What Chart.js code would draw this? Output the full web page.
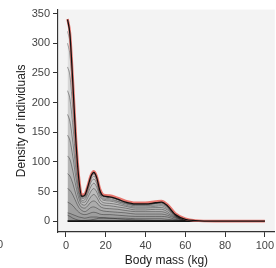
<!DOCTYPE html>
<html>
<head>
<meta charset="utf-8">
<script src="https://cdn.jsdelivr.net/npm/chart.js@4/dist/chart.umd.min.js"></script>
<style>
  html, body { margin: 0; padding: 0; background: #fff; }
  #wrap { width: 276px; height: 268px; }
</style>
</head>
<body>
<div id="wrap"><canvas id="densityChart" width="276" height="268"></canvas></div>
<script>
// Valores de masa corporal (eje X)
const massGrid = [0.8, 2, 3.5, 5, 6.5, 8, 9.5, 11, 12.5, 14, 15.5, 17, 19, 22, 26, 30, 35, 40, 45, 48, 51, 55, 60, 65, 75, 100];

// Curva final (negra) y contorno rojo
const finalDensity = [340, 315, 230, 135, 70, 42, 44, 58, 75, 82, 73, 52, 42, 41, 37, 32, 29, 29, 31, 32, 26, 11, 3, 1, 0, 0];
const redDensity   = [341, 317, 234, 140, 74, 44, 46, 60, 77, 84, 75, 55, 44, 43, 39, 34, 31, 31, 33, 34, 28, 13, 4, 1, 0, 0];

// Curvas grises intermedias
const grayCurves = [
  [320, 300, 222, 132, 69, 41.5, 43.5, 57, 74, 81, 72, 51, 41.5, 40.5, 36.5, 31.5, 28.5, 28.5, 30.5, 31.5, 25.5, 10.5, 3, 1, 0, 0],
  [300, 280, 210, 128, 68, 41, 43, 56, 72, 79, 70, 50, 41, 40, 36, 31, 28, 28, 30, 31, 25, 10, 3, 1, 0, 0],
  [260, 245, 186, 116, 63, 40, 41, 54, 69, 76, 67, 48, 39, 38, 34, 30, 27, 27, 29, 30, 24, 10, 3, 1, 0, 0],
  [220, 206, 160, 102, 58, 38, 39, 51, 65, 71, 63, 46, 37, 36, 33, 29, 26, 26, 27, 28, 23, 9, 3, 1, 0, 0],
  [180, 168, 132, 87, 51, 35, 36, 46, 58, 64, 57, 42, 35, 34, 31, 27, 24, 24, 25, 26, 21, 9, 3, 1, 0, 0],
  [145, 136, 108, 73, 45, 32, 32, 40, 50, 55, 49, 37, 31, 30, 28, 25, 22, 22, 23, 23, 19, 8, 2, 1, 0, 0],
  [110, 104, 84, 59, 38, 28, 27, 33, 41, 45, 40, 31, 27, 26, 24, 22, 19, 19, 20, 20, 16, 7, 2, 1, 0, 0],
  [80, 76, 63, 45, 30, 23, 22, 26, 32, 34, 31, 25, 22, 21, 20, 18, 16, 16, 16, 16, 13, 6, 2, 0.5, 0, 0],
  [55, 52, 44, 33, 23, 18, 16, 19, 23, 24, 22, 19, 17, 16, 15, 14, 12, 12, 12, 12, 10, 5, 1, 0.5, 0, 0],
  [32, 30, 26, 20, 15, 12, 11, 12, 14, 15, 14, 12, 11, 11, 10, 9, 8, 8, 8, 8, 7, 3, 1, 0, 0, 0],
  [14, 13, 11, 9, 7, 6, 5, 6, 7, 7, 7, 6, 6, 5, 5, 5, 4, 4, 4, 4, 3, 2, 0.5, 0, 0, 0],
  [10, 8, 5, 3, 1.5, 1, 1, 1.5, 2, 3, 4, 5, 5, 5, 4, 3, 2, 1.5, 1, 1, 0.5, 0.5, 0, 0, 0, 0]
];

// Línea base negra
const baseMass = [0.8, 70];
const baseDensity = [0, 0];

// Etiquetas de los ejes
const xTicks = [0, 20, 40, 60, 80, 100];
const yTicks = [0, 50, 100, 150, 200, 250, 300, 350];

function toPoints(xs, ys) {
    return xs.map((x, i) => ({ x: x, y: ys[i] }));
}

const datasets = [];
datasets.push({
    data: toPoints(massGrid, finalDensity),
    borderColor: '#111111', borderWidth: 1.3, order: 0
});
datasets.push({
    data: toPoints(massGrid, redDensity),
    borderColor: '#e8766e', borderWidth: 2.6, order: 1
});
datasets.push({
    data: toPoints(baseMass, baseDensity),
    borderColor: '#111111', borderWidth: 1.6, order: 2
});
grayCurves.forEach((curve, i) => {
    datasets.push({
        data: toPoints(massGrid, curve),
        borderColor: 'rgba(0,0,0,0.35)', borderWidth: 1,
        backgroundColor: 'rgba(0,0,0,0.04)', fill: 'origin',
        order: 3 + i
    });
});

// Fondo gris del panel y etiqueta cortada del panel vecino
const panelPlugin = {
    id: 'panel',
    beforeDraw(chart) {
        const { ctx, chartArea } = chart;
        ctx.save();
        ctx.fillStyle = '#f3f3f3';
        ctx.fillRect(chartArea.left + 1, chartArea.top, chartArea.right - chartArea.left - 1, chartArea.bottom - chartArea.top - 1);
        ctx.fillStyle = '#444';
        ctx.font = '11px "Liberation Sans", Arial, sans-serif';
        ctx.textAlign = 'right';
        ctx.textBaseline = 'middle';
        ctx.fillText('100', 3, 245);
        ctx.restore();
    }
};

new Chart(document.getElementById('densityChart').getContext('2d'), {
    type: 'line',
    data: { datasets: datasets },
    plugins: [panelPlugin],
    options: {
        responsive: false,
        animation: false,
        layout: { padding: { top: 7, left: 0, right: 0, bottom: 0 } },
        elements: {
            point: { radius: 0 },
            line: { cubicInterpolationMode: 'monotone' }
        },
        plugins: { legend: { display: false }, tooltip: { enabled: false } },
        scales: {
            x: {
                type: 'linear', min: -4, max: 105,
                afterBuildTicks: (s) => { s.ticks = xTicks.map(v => ({ value: v })); },
                afterFit: (s) => { s.height = 36; },
                grid: { drawOnChartArea: false, tickLength: 5, color: '#333', lineWidth: 1 },
                border: { display: true, color: '#333', width: 1.2 },
                ticks: { color: '#444', padding: 2, maxRotation: 0, font: { family: '"Liberation Sans", Arial, sans-serif', size: 11 } },
                title: { display: true, text: 'Body mass (kg)', color: '#222', padding: { top: 1, bottom: 0 },
                         font: { family: '"Liberation Sans", Arial, sans-serif', size: 12 } }
            },
            y: {
                type: 'linear', min: -18.3, max: 356.7,
                afterBuildTicks: (s) => { s.ticks = yTicks.map(v => ({ value: v })); },
                afterFit: (s) => { s.width = 58; },
                grid: { drawOnChartArea: false, tickLength: 5, color: '#333', lineWidth: 1 },
                border: { display: true, color: '#333', width: 1.2 },
                ticks: { color: '#444', padding: 3, font: { family: '"Liberation Sans", Arial, sans-serif', size: 11 } },
                title: { display: true, text: 'Density of individuals', color: '#222', padding: { top: 14, bottom: 0 },
                         font: { family: '"Liberation Sans", Arial, sans-serif', size: 12 } }
            }
        }
    }
});
</script>
</body>
</html>
